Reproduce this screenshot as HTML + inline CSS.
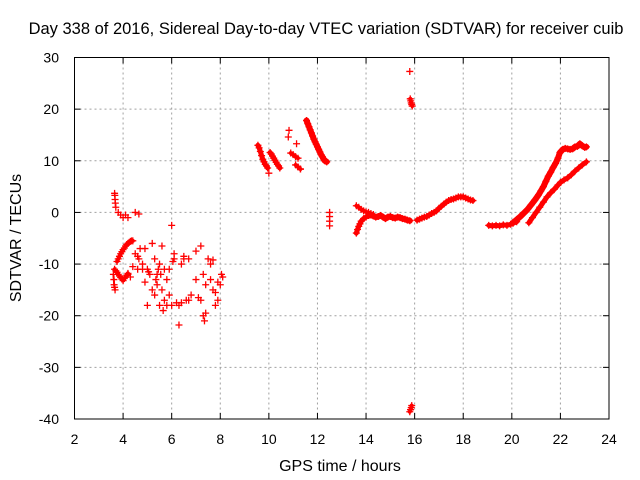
<!DOCTYPE html>
<html><head><meta charset="utf-8"><style>
body{margin:0;background:#fff;}
svg{display:block;font-family:"Liberation Sans",sans-serif;}
</style></head><body>
<svg id="chart" width="640" height="480" viewBox="0 0 640 480" xmlns="http://www.w3.org/2000/svg">
<rect width="640" height="480" fill="#fff"/>
<text x="326" y="34" font-size="16.5" text-anchor="middle">Day 338 of 2016, Sidereal Day-to-day VTEC variation (SDTVAR) for receiver cuib</text>
<text x="340" y="471" font-size="16" text-anchor="middle">GPS time / hours</text>
<text x="0" y="0" font-size="16" text-anchor="middle" transform="translate(21,238) rotate(-90)">SDTVAR / TECUs</text>
<g id="grid"></g><g id="ticks"></g><g id="marks"></g>
<rect x="74.5" y="57.5" width="534.5" height="361.5" fill="none" stroke="#000" stroke-width="1"/>
</svg>
<script>
const xTicks=[2,4,6,8,10,12,14,16,18,20,22,24];
const yTicks=[30,20,10,0,-10,-20,-30,-40];
// scattered early cluster
const earlyTopX=[3.65,3.66,3.67,3.68,3.7,3.8,3.9,4.0,4.1,4.2,4.5,4.65];
const earlyTopY=[3.7,3.3,2.5,1.8,1.0,0,-0.5,-1,-0.5,-1,0,-0.3];
const earlyRiseX=[3.75,3.8,3.85,3.9,3.95,4.0,4.05,4.1,4.15,4.2,4.25,4.3,4.35,4.4];
const earlyRiseY=[-9.5,-9,-8.5,-8,-7.6,-7.2,-6.9,-6.5,-6.2,-6,-5.8,-5.6,-5.5,-5.5];
const earlyLowX=[3.65,3.7,3.75,3.8,3.85,3.9,3.95,4.0,4.05,4.1,4.15,4.2];
const earlyLowY=[-11,-11.3,-11.6,-12,-12.3,-12.6,-12.9,-13.2,-12.8,-12.5,-12.2,-11.8];
const earlyColX=[3.6,3.62,3.63,3.65,3.67];
const earlyColY=[-12,-13,-14,-14.5,-15];
const scatterX=[4.5,4.6,4.65,4.7,4.8,4.9,5.0,5.05,5.1,5.2,
5.3,5.35,5.4,5.45,5.5,5.55,5.6,5.65,5.7,5.8,
5.9,6.0,6.05,6.1,6.2,6.3,6.4,6.5,6.6,6.7,
6.8,7.0,7.1,7.2,7.3,7.35,7.4,7.5,7.6,7.7,
7.8,7.9,8.0,8.05,8.1,4.4,4.6,4.9,5.3,5.5,
5.7,5.9,6.0,6.3,6.5,6.7,7.2,7.4,7.6,7.8,
7.9,5.0,5.2,5.6,5.8,6.1,6.4,7.0,7.3,7.7,
4.2,4.3,4.8,5.4];
const scatterY=[-8,-8.5,-9,-7,-10,-7,-11,-11.5,-12,-6,
-9,-13,-14,-11,-10,-12,-15,-19,-17,-18,
-11,-2.5,-9.5,-8,-17.5,-18,-10,-9,-17,-9,
-16,-13,-16.5,-6.5,-20,-21,-14,-9,-13,-15,
-18,-17,-14,-12,-12.5,-10.5,-11,-13.5,-16,-18,
-11,-16,-18,-21.8,-8.5,-17,-17,-19.5,-10,-15.5,
-13.5,-18,-15,-6.5,-13,-9,-17.5,-7.5,-12,-9.2,
-12,-12.5,-11,-12];
// middle
const bandAX=[9.55,9.6,9.65,9.7,9.75,9.8,9.85,9.9,9.95];
const bandAY=[13,12.5,11.8,11,10.3,9.8,9.3,9,8.6];
const bandBX=[10.05,10.1,10.15,10.2,10.25,10.3,10.35,10.4,10.45];
const bandBY=[11.6,11.3,10.9,10.5,10.1,9.7,9.3,9,8.6];
const midPtsX=[10.0,10.83,10.8,11.14,11.3,12.5,12.5,12.5,12.5,15.8];
const midPtsY=[7.6,15.9,14.6,13.3,8.4,0,-0.8,-1.7,-2.6,27.3];
const bandCX=[10.9,11.0,11.1,11.2];
const bandCY=[11.5,11.2,10.8,10.5];
const bandDX=[11.1,11.2,11.3];
const bandDY=[9.2,8.8,8.4];
const bandEX=[11.55,11.6,11.65,11.7,11.75,11.8,11.85,11.9,11.95,12.0,12.05,12.1,12.15,12.2,12.25,12.3,12.38];
const bandEY=[17.8,17.2,16.6,16,15.4,14.8,14.2,13.7,13.2,12.7,12.2,11.7,11.2,10.8,10.4,10,9.8];
const bandFX=[15.82,15.84,15.86,15.88,15.9];
const bandFY=[22,21.6,21.2,20.9,20.6];
const bandGX=[15.8,15.83,15.86,15.88];
const bandGY=[-38.6,-38.2,-37.8,-37.4];
const band14RiseX=[13.6,13.65,13.7,13.75,13.8,13.9,14.0,14.1];
const band14RiseY=[-4,-3.3,-2.7,-2.2,-1.7,-1.2,-0.9,-0.6];
const band14UpX=[13.6,13.7,13.8,13.9,14.0,14.1,14.2,14.3];
const band14UpY=[1.3,1,0.6,0.3,0.1,0,-0.2,-0.4];
const band14FlatX=[14.1,14.2,14.3,14.4,14.5,14.6,14.7,14.8,14.9,15.0,15.1,15.2,15.3,15.4,15.5,15.6,15.7,15.8];
const band14FlatY=[-0.6,-0.5,-0.7,-0.9,-0.8,-0.6,-0.9,-1.2,-0.9,-0.8,-1,-1.1,-0.9,-1,-1.2,-1.3,-1.5,-1.6];
const band17X=[16.1,16.2,16.3,16.4,16.5,16.6,16.7,16.8,16.9,17.0,17.1,17.2,17.3,17.4,17.5,17.6,17.7,17.8,17.9,18.0,18.1,18.2,18.3,18.4];
const band17Y=[-1.5,-1.3,-1.1,-0.9,-0.8,-0.5,-0.2,0,0.3,0.8,1.2,1.6,2,2.3,2.5,2.6,2.8,3,3,3,2.8,2.6,2.4,2.3];
const band19X=[19.05,19.2,19.35,19.5,19.65,19.8,19.95,20.05,20.2];
const band19Y=[-2.5,-2.6,-2.5,-2.6,-2.4,-2.5,-2.3,-2.1,-1.8];
const bandUpX=[20.05,20.2,20.35,20.5,20.65,20.8,20.95,21.1,21.2,21.3,21.4,21.5,21.6,21.7,21.8,21.9,21.98,22.1,22.2,22.3,22.4,22.5,22.6,22.7,22.8,22.9,23.0,23.07];
const bandUpY=[-2.0,-1.4,-0.8,-0.1,0.6,1.5,2.4,3.4,4.2,5,6,7,7.8,8.7,9.5,10.5,11.6,12.2,12.4,12.3,12.2,12.3,12.7,12.8,13.3,12.9,12.6,12.7];
const bandLowX=[20.7,20.85,21.0,21.15,21.3,21.45,21.6,21.75,21.9,22.0,22.15,22.3,22.45,22.6,22.75,22.9,23.07];
const bandLowY=[-2,-1,0,1,2,3,3.8,4.5,5.3,5.8,6.3,6.7,7.3,8,8.6,9.2,9.8];

const groups=[
 [earlyTopX,earlyTopY,0],[earlyRiseX,earlyRiseY,4],[earlyLowX,earlyLowY,4],[earlyColX,earlyColY,2],[scatterX,scatterY,0],
 [bandAX,bandAY,5],[bandBX,bandBY,5],[midPtsX,midPtsY,0],[bandCX,bandCY,4],[bandDX,bandDY,4],[bandEX,bandEY,6],[bandFX,bandFY,4],[bandGX,bandGY,4],
 [band14RiseX,band14RiseY,5],[band14UpX,band14UpY,4],[band14FlatX,band14FlatY,6],[band17X,band17Y,5],[band19X,band19Y,5],
 [bandUpX,bandUpY,6],[bandLowX,bandLowY,5]
];
const svgNS="http://www.w3.org/2000/svg";
const X0=74.5,X1=609,Y0=419,Y1=57.5;
function xs(v){return X0+(v-2)/(24-2)*(X1-X0);}
function ys(v){return Y0-(v+40)/(30+40)*(Y0-Y1);}
function mk(tag,attrs,parent){const e=document.createElementNS(svgNS,tag);for(const k in attrs)e.setAttribute(k,attrs[k]);parent.appendChild(e);return e;}
const grid=document.getElementById('grid'),ticks=document.getElementById('ticks'),marks=document.getElementById('marks');
xTicks.forEach(t=>{
  const x=xs(t);
  if(t>2&&t<24){const g=mk('line',{x1:x,y1:Y1,x2:x,y2:Y0,stroke:'#a0a0a0','stroke-dasharray':'2,3'},grid);
  
  }
  mk('line',{x1:x,y1:Y0,x2:x,y2:Y0-6,stroke:'#000'},ticks);
  mk('line',{x1:x,y1:Y1,x2:x,y2:Y1+6,stroke:'#000'},ticks);
  const l=mk('text',{x:x,y:444,'font-size':14,'text-anchor':'middle'},ticks);
  l.textContent=t;
  
  
});
yTicks.forEach(t=>{
  const y=ys(t);
  if(t<30&&t>-40){const g=mk('line',{x1:X0,y1:y,x2:X1,y2:y,stroke:'#a0a0a0','stroke-dasharray':'2,3'},grid);
  
  }
  mk('line',{x1:X0,y1:y,x2:X0+6,y2:y,stroke:'#000'},ticks);
  mk('line',{x1:X1,y1:y,x2:X1-6,y2:y,stroke:'#000'},ticks);
  const l=mk('text',{x:59,y:y+5,'font-size':14,'text-anchor':'end'},ticks);
  l.textContent=t;
  
  
});
groups.forEach(([gx,gy,w])=>{
  const n=Math.min(gx.length,gy.length);
  if(w>0){
    let d='';
    for(let i=0;i<n;i++)d+=(i?'L':'M')+xs(gx[i])+','+ys(gy[i]);
    const b=mk('path',{d:d,stroke:'#f00','stroke-width':w,fill:'none','stroke-linejoin':'round','stroke-linecap':'round'},marks);
    
    
  }
  for(let i=0;i<n;i++){
    const x=xs(gx[i]),y=ys(gy[i]);
    const p=mk('path',{d:`M${x-3.5},${y}H${x+3.5}M${x},${y-3.5}V${y+3.5}`,stroke:'#f00','stroke-width':1.3,fill:'none'},marks);
    
    
  }
});
</script>
</body></html>
